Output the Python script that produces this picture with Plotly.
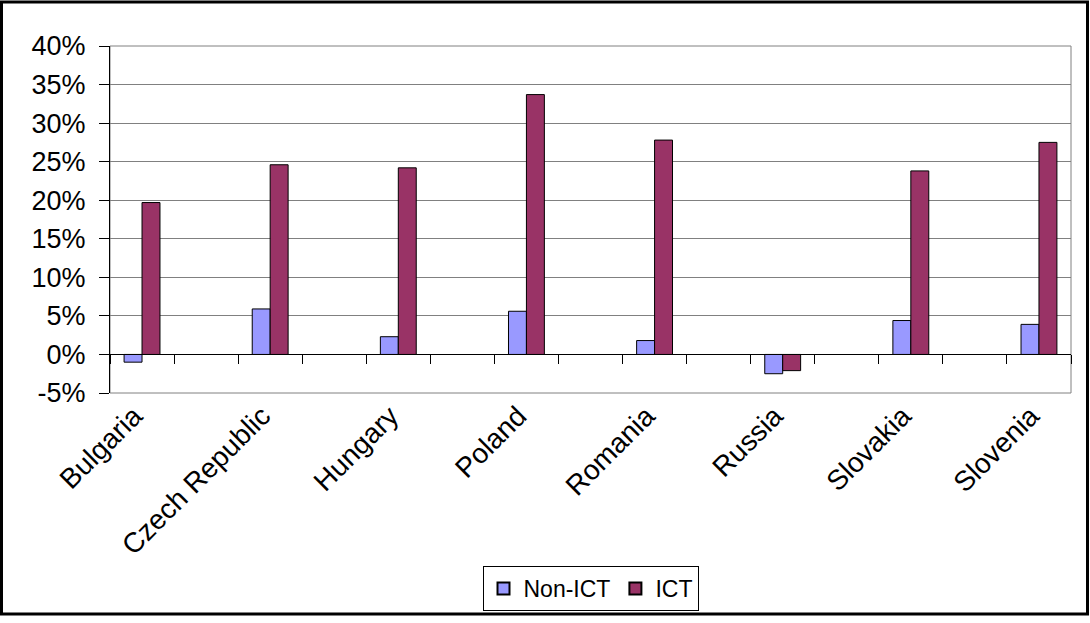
import plotly.graph_objects as go

countries = ["Bulgaria", "Czech Republic", "Hungary", "Poland", "Romania", "Russia", "Slovakia", "Slovenia"]
non_ict = [-1.0, 5.9, 2.3, 5.6, 1.8, -2.5, 4.4, 3.9]
ict = [19.7, 24.6, 24.2, 33.7, 27.8, -2.1, 23.8, 27.5]
y_ticks = [-5, 0, 5, 10, 15, 20, 25, 30, 35, 40]
y_tick_labels = ["-5%", "0%", "5%", "10%", "15%", "20%", "25%", "30%", "35%", "40%"]

# Excel layout: each country sits in every other category slot (blank slots between)
n_slots = 2 * len(countries) - 1
slot_x = [2 * i for i in range(len(countries))]
boundaries = [i - 0.5 for i in range(n_slots + 1)]
BAR_W = 0.28

W, H = 1090, 623
ML, MR, MT, MB = 110, 19, 46, 226
PW, PH = W - ML - MR, H - MT - MB

FONT = "Liberation Sans, Arial, sans-serif"

fig = go.Figure()
fig.add_trace(go.Bar(x=slot_x, y=non_ict, name="Non-ICT", width=BAR_W, offset=-BAR_W,
                     marker=dict(color="#9999FF", line=dict(color="black", width=1))))
fig.add_trace(go.Bar(x=slot_x, y=ict, name="ICT", width=BAR_W, offset=0,
                     marker=dict(color="#993366", line=dict(color="black", width=1))))
# helper trace for the category-boundary axis at 0%
fig.add_trace(go.Scatter(x=[None], y=[None], xaxis="x2", showlegend=False, hoverinfo="skip"))

zero_pos = (0 - y_ticks[0]) / (y_ticks[-1] - y_ticks[0])

fig.update_layout(
    width=W, height=H,
    margin=dict(l=ML, r=MR, t=MT, b=MB),
    paper_bgcolor="white", plot_bgcolor="white",
    font=dict(family=FONT, color="black"),
    barmode="overlay",
    xaxis=dict(range=[-0.5, n_slots - 0.5], tickvals=slot_x, ticktext=countries,
               tickangle=-45, showgrid=False, zeroline=False, showline=False,
               ticks="", tickfont=dict(size=28, family=FONT), ticklabelshift=-8),
    xaxis2=dict(overlaying="x", anchor="free", position=zero_pos, side="bottom",
                range=[-0.5, n_slots - 0.5], tickvals=boundaries, showticklabels=False,
                showline=True, linecolor="black", linewidth=1, ticks="outside",
                ticklen=9, tickcolor="black", showgrid=False, zeroline=False),
    yaxis=dict(range=[y_ticks[0], y_ticks[-1]], tickvals=y_ticks, ticktext=y_tick_labels,
               showgrid=True, gridcolor="#808080", gridwidth=1, zeroline=False,
               showline=True, linecolor="black", linewidth=1, ticks="outside",
               ticklen=10, tickcolor="black", tickfont=dict(size=27, family=FONT),
               ticklabelstandoff=8),
    legend=dict(orientation="h", x=0.5, xanchor="center", y=-(572 - (MT + PH)) / PH,
                yanchor="top", bordercolor="black", borderwidth=1,
                font=dict(size=23, family=FONT), itemsizing="constant",
                tracegroupgap=0, itemwidth=30),
    showlegend=True,
)

# plot-area border (right side gray) and outer chart border
fig.add_shape(type="rect", xref="x domain", yref="y domain", x0=0, x1=1, y0=0, y1=1,
              line=dict(color="#808080", width=1), layer="below")
fig.add_shape(type="rect", xref="paper", yref="paper",
              x0=(1.5 - ML) / PW, x1=(W - 2.5 - ML) / PW,
              y0=-(H - 2.5 - (MT + PH)) / PH, y1=1 + (MT - 1.5) / PH,
              line=dict(color="black", width=3))

fig.write_html("out.html", config={"displayModeBar": False},
               post_script="document.body.style.margin='0';document.body.style.overflow='hidden';")
